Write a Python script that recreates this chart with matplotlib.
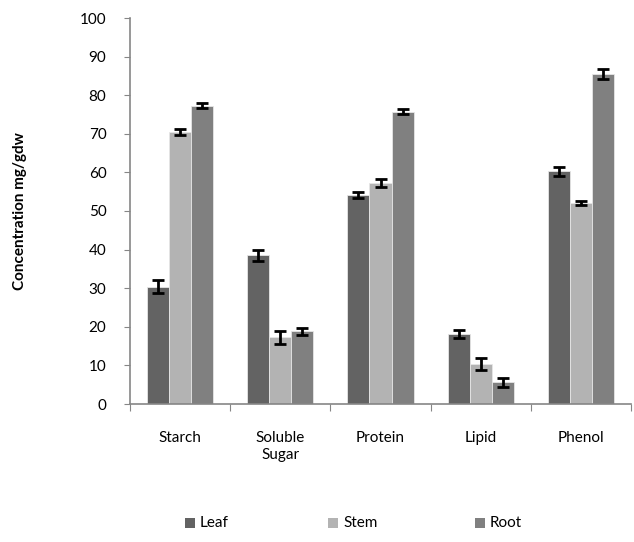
import numpy as np
import matplotlib.pyplot as plt
from matplotlib.patches import Rectangle

plt.rcParams['font.family'] = ['Lato', 'DejaVu Sans']

categories = ['Starch', 'Soluble\nSugar', 'Protein', 'Lipid', 'Phenol']
series = ['Leaf', 'Stem', 'Root']
leaf = [30.4, 38.5, 54.1, 18.1, 60.3]
stem = [70.4, 17.3, 57.3, 10.3, 52.1]
root = [77.3, 18.8, 75.7, 5.6, 85.5]
leaf_err = [1.6, 1.4, 0.8, 1.0, 1.2]
stem_err = [0.8, 1.7, 1.1, 1.5, 0.6]
root_err = [0.7, 1.0, 0.6, 1.1, 1.4]
colors = ['#636363', '#b3b3b3', '#808080']

W, H = 634, 542
fig = plt.figure(figsize=(W / 100, H / 100), dpi=100)
ax = fig.add_axes([130 / W, 1 - 404 / H, 501 / W, 386 / H])

x = np.arange(len(categories))
w = 0.22
for i, (vals, errs) in enumerate([(leaf, leaf_err), (stem, stem_err), (root, root_err)]):
    pos = x + (i - 1) * w
    ax.bar(pos, vals, width=w, color=colors[i], edgecolor='#e6e6e6', linewidth=0.6, zorder=2)
    ax.errorbar(pos, vals, yerr=errs, fmt='none', ecolor='black', elinewidth=2,
                capsize=4.5, capthick=2, zorder=3)

ax.set_xlim(-0.5, len(categories) - 0.5)
ax.set_ylim(0, 100)
ax.set_yticks(np.arange(0, 101, 10))
ax.tick_params(axis='y', labelsize=11, length=4, color='#868686', pad=13)
ax.set_xticks(np.arange(-0.5, len(categories), 1))
ax.set_xticklabels([])
ax.tick_params(axis='x', length=5, color='#868686')
for xi, lab in zip(x, categories):
    ax.text(xi, -7.0, lab, ha='center', va='top', fontsize=11, linespacing=1.3)

for s in ['top', 'right']:
    ax.spines[s].set_visible(False)
for s in ['left', 'bottom']:
    ax.spines[s].set_color('#868686')
    ax.spines[s].set_linewidth(1.2)

ax.set_ylabel('Concentration mg/gdw', fontsize=11, fontweight='bold')
ax.yaxis.set_label_coords(-103 / 501, 0.5)

# legend along the bottom
leg_x = [185, 328, 475]
leg_y = 523
for lx, c, name in zip(leg_x, colors, series):
    fig.patches.append(Rectangle((lx / W, (H - leg_y - 5) / H), 10 / W, 10 / H,
                                 transform=fig.transFigure, facecolor=c, edgecolor='none'))
    fig.text((lx + 15) / W, (H - leg_y) / H, name, ha='left', va='center', fontsize=11)

fig.savefig('out.png', dpi=100)
